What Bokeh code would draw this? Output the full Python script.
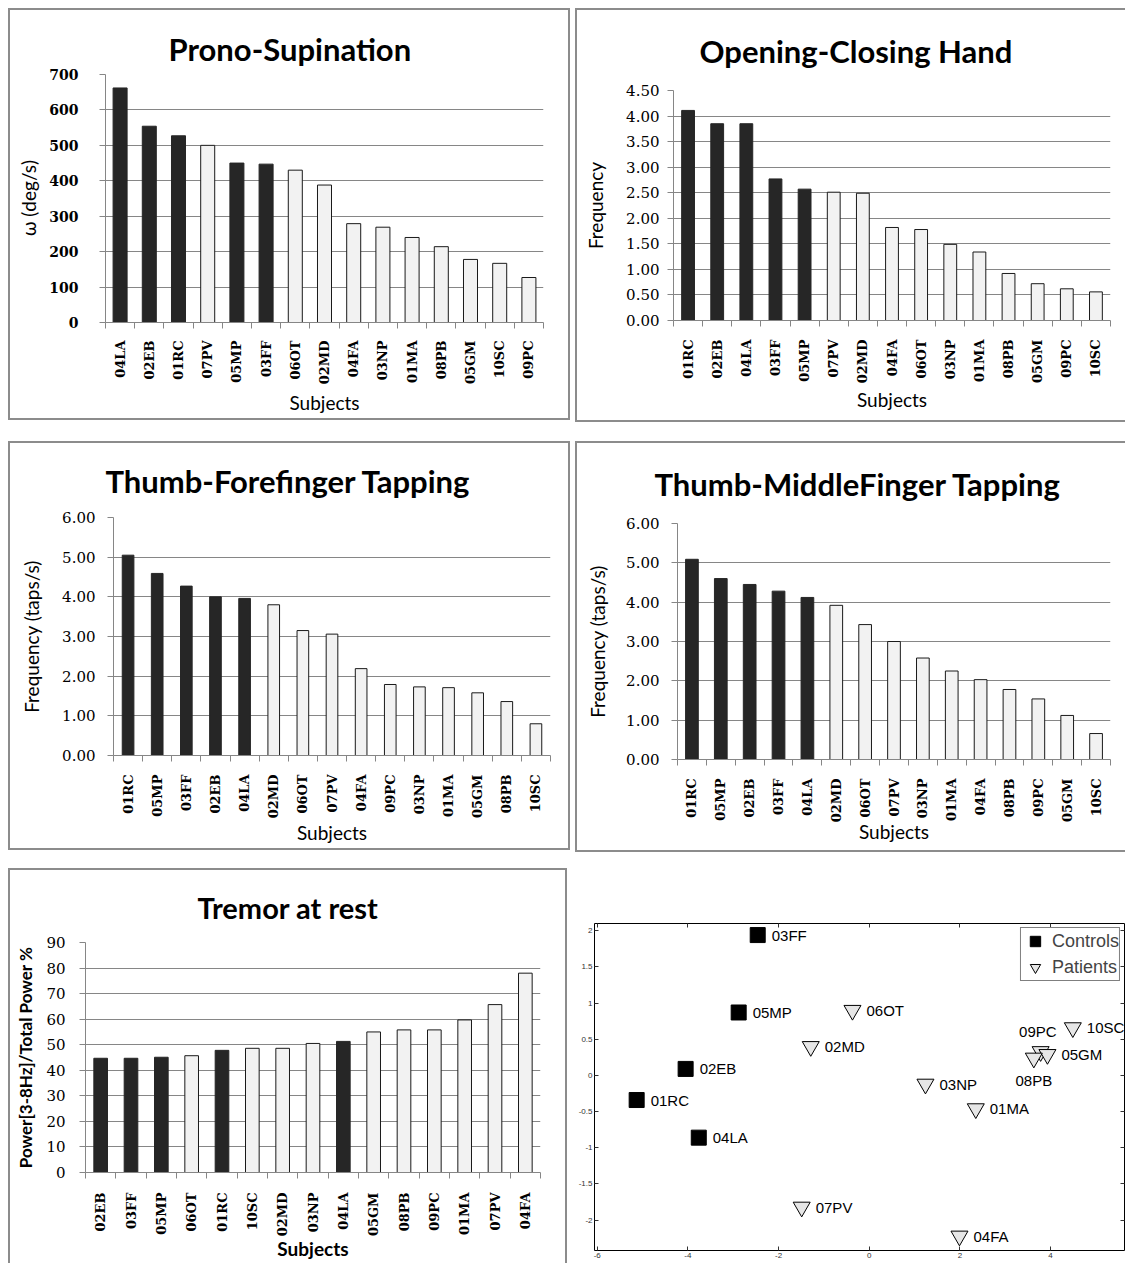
import math
from bokeh.plotting import figure
from bokeh.models import (ColumnDataSource, FixedTicker, NumeralTickFormatter, Range1d,
                          LinearAxis, CustomJSTickFormatter, LabelSet, Legend, LegendItem)
from bokeh.layouts import row, column
from bokeh.embed import file_html
from bokeh.resources import INLINE
from bokeh.core.properties import value

# ---------------- data ----------------
controls = ["01RC", "02EB", "03FF", "04LA", "05MP"]

ps_subjects = ["04LA", "02EB", "01RC", "07PV", "05MP", "03FF", "06OT", "02MD",
               "04FA", "03NP", "01MA", "08PB", "05GM", "10SC", "09PC"]
ps_values = [662, 554, 527, 500, 450, 447, 430, 388, 279, 269, 240, 214, 178, 167, 127]

och_subjects = ["01RC", "02EB", "04LA", "03FF", "05MP", "07PV", "02MD", "04FA",
                "06OT", "03NP", "01MA", "08PB", "05GM", "09PC", "10SC"]
och_values = [4.11, 3.85, 3.85, 2.77, 2.57, 2.51, 2.49, 1.82, 1.78, 1.49, 1.34, 0.92, 0.72, 0.62, 0.56]

tff_subjects = ["01RC", "05MP", "03FF", "02EB", "04LA", "02MD", "06OT", "07PV",
                "04FA", "09PC", "03NP", "01MA", "05GM", "08PB", "10SC"]
tff_values = [5.05, 4.59, 4.27, 4.00, 3.96, 3.80, 3.15, 3.06, 2.19, 1.79, 1.73, 1.71, 1.58, 1.36, 0.80]

tmf_subjects = ["01RC", "05MP", "02EB", "03FF", "04LA", "02MD", "06OT", "07PV",
                "03NP", "01MA", "04FA", "08PB", "09PC", "05GM", "10SC"]
tmf_values = [5.09, 4.60, 4.45, 4.28, 4.12, 3.92, 3.43, 3.00, 2.58, 2.25, 2.03, 1.78, 1.54, 1.12, 0.66]

tr_subjects = ["02EB", "03FF", "05MP", "06OT", "01RC", "10SC", "02MD", "03NP",
               "04LA", "05GM", "08PB", "09PC", "01MA", "07PV", "04FA"]
tr_values = [44.7, 44.7, 45.1, 45.7, 47.8, 48.6, 48.6, 50.5, 51.3, 55.0, 55.8, 55.8, 59.7, 65.7, 78.0]

pca_names = ["03FF", "05MP", "02EB", "01RC", "04LA", "06OT", "02MD", "03NP",
             "01MA", "09PC", "05GM", "08PB", "10SC", "07PV", "04FA"]
pca_x = [-2.46, -2.88, -4.05, -5.13, -3.76, -0.37, -1.29, 1.24, 2.35, 3.78, 3.93, 3.63, 4.49, -1.49, 1.99]
pca_y = [1.94, 0.87, 0.09, -0.34, -0.86, 0.90, 0.40, -0.12, -0.46, 0.33, 0.29, 0.24, 0.66, -1.82, -2.22]

# ---------------- styles ----------------
GRID = "#868686"
BORDER = "#8c8c8c"
DARK = "#262626"
LIGHT = "#f2f2f2"
TITLE_FONT = "Lato"
LABEL_FONT = "Lato"
TICK_FONT = "DejaVu Serif"


def shadow(sides):
    parts = []
    if "l" in sides:
        parts.append(f"inset 2px 0 0 0 {BORDER}")
    if "t" in sides:
        parts.append(f"inset 0 2px 0 0 {BORDER}")
    if "r" in sides:
        parts.append(f"inset -2px 0 0 0 {BORDER}")
    if "b" in sides:
        parts.append(f"inset 0 -2px 0 0 {BORDER}")
    return ", ".join(parts)


def bar_panel(title, subjects, values, ylabel, ymax, ystep, yfmt, c):
    n = len(subjects)
    centers = [i + 0.5 for i in range(n)]
    fills = [DARK if s in controls else LIGHT for s in subjects]
    lines = [DARK if s in controls else "#1a1a1a" for s in subjects]
    src = ColumnDataSource(dict(x=centers, top=values, subj=subjects, fill=fills, line=lines))
    p = figure(width=c["w"], height=c["h"], x_range=Range1d(0, n), y_range=Range1d(0, ymax),
               title=title, output_backend="svg", toolbar_location=None,
               min_border_left=c["mb"][0], min_border_right=c["mb"][1],
               min_border_top=c["mb"][2], min_border_bottom=c["mb"][3])
    p.styles = {"box-shadow": shadow(c["sides"])}
    p.border_fill_color = None
    p.background_fill_color = "white"
    p.outline_line_color = None

    p.vbar(x="x", top="top", bottom=0, width=c["bw"], source=src,
           fill_color="fill", line_color="line", line_width=1)

    # title
    p.title.align = "left"
    p.title.offset = c["toff"]
    p.title.standoff = c["tstd"]
    p.title.text_font = TITLE_FONT
    p.title.text_font_size = c["tsize"]
    p.title.text_font_style = c["tstyle"]
    p.title.text_color = "black"

    # y axis
    nt = int(round(ymax / ystep))
    yticks = [round(i * ystep, 2) for i in range(nt + 1)]
    p.yaxis.ticker = FixedTicker(ticks=yticks)
    p.yaxis.formatter = NumeralTickFormatter(format=yfmt)
    p.yaxis.axis_label = ylabel
    p.yaxis.axis_label_text_font = LABEL_FONT
    p.yaxis.axis_label_text_font_size = c["ylsize"]
    p.yaxis.axis_label_text_font_style = c["ylstyle"]
    p.yaxis.axis_label_text_color = "black"
    p.yaxis.axis_label_standoff = c["y_als"]
    p.yaxis.major_label_text_font = TICK_FONT
    p.yaxis.major_label_text_font_size = c["ytsize"]
    p.yaxis.major_label_text_font_style = c["ytstyle"]
    p.yaxis.major_label_text_color = "black"
    p.yaxis.major_label_standoff = c["y_ls"]
    p.yaxis.axis_line_color = GRID
    p.yaxis.major_tick_line_color = GRID
    p.yaxis.major_tick_out = 6
    p.yaxis.major_tick_in = 0
    p.yaxis.minor_tick_line_color = None

    p.ygrid.grid_line_color = GRID
    p.ygrid.grid_line_width = 1.2
    p.xgrid.visible = False

    # x axis
    p.xaxis.ticker = FixedTicker(ticks=centers, minor_ticks=list(range(n + 1)))
    p.xaxis.major_label_overrides = {x: s for x, s in zip(centers, subjects)}
    p.xaxis.major_label_orientation = math.pi / 2
    p.xaxis.major_label_text_font = TICK_FONT
    p.xaxis.major_label_text_font_size = "13px"
    p.xaxis.major_label_text_font_style = "bold"
    p.xaxis.major_label_text_color = "black"
    p.xaxis.major_label_standoff = c["x_ls"]
    p.xaxis.major_tick_out = 0
    p.xaxis.major_tick_in = 0
    p.xaxis.minor_tick_out = 6
    p.xaxis.minor_tick_in = 0
    p.xaxis.minor_tick_line_color = GRID
    p.xaxis.axis_line_color = GRID
    p.xaxis.axis_label = "Subjects"
    p.xaxis.axis_label_text_font = LABEL_FONT
    p.xaxis.axis_label_text_font_size = "19px"
    p.xaxis.axis_label_text_font_style = c["xlstyle"]
    p.xaxis.axis_label_text_color = "black"
    p.xaxis.axis_label_standoff = c["x_als"]
    return p


p1 = bar_panel("Prono-Supination", ps_subjects, ps_values, "\u03c9 (deg/s)", 700, 100, "0",
               dict(w=562, h=412, mb=(97, 27, 66, 98), sides="ltrb", bw=0.48,
                    toff=63, tstd=13, tsize="31px", tstyle="bold",
                    ylsize="19px", ylstyle="normal", y_als=6, y_ls=21,
                    ytsize="14px", ytstyle="bold", x_ls=12, x_als=4, xlstyle="normal"))

p2 = bar_panel("Opening-Closing Hand", och_subjects, och_values, "Frequency", 4.5, 0.5, "0.00",
               dict(w=550, h=414, mb=(98, 15, 82, 102), sides="ltb", bw=0.44,
                    toff=26, tstd=42, tsize="31px", tstyle="bold",
                    ylsize="19px", ylstyle="normal", y_als=16, y_ls=8,
                    ytsize="15px", ytstyle="normal", x_ls=13, x_als=2, xlstyle="normal"))

p3 = bar_panel("Thumb-Forefinger Tapping", tff_subjects, tff_values, "Frequency (taps/s)", 6, 1, "0.00",
               dict(w=562, h=409, mb=(105, 20, 76, 95), sides="ltrb", bw=0.40,
                    toff=-8, tstd=35, tsize="31px", tstyle="bold",
                    ylsize="19px", ylstyle="normal", y_als=16, y_ls=12,
                    ytsize="15px", ytstyle="normal", x_ls=13, x_als=0, xlstyle="normal"))

p4 = bar_panel("Thumb-MiddleFinger Tapping", tmf_subjects, tmf_values, "Frequency (taps/s)", 6, 1, "0.00",
               dict(w=550, h=411, mb=(102, 15, 82, 93), sides="ltb", bw=0.44,
                    toff=-23, tstd=42, tsize="31px", tstyle="bold",
                    ylsize="19px", ylstyle="normal", y_als=14, y_ls=12,
                    ytsize="15px", ytstyle="normal", x_ls=13, x_als=-5, xlstyle="normal"))

p5 = bar_panel("Tremor at rest", tr_subjects, tr_values, "Power[3-8Hz]/Total Power %", 90, 10, "0",
               dict(w=559, h=395, mb=(77, 27, 74, 90), sides="ltr", bw=0.45,
                    toff=112, tstd=36, tsize="29px", tstyle="bold",
                    ylsize="17px", ylstyle="bold", y_als=7, y_ls=14,
                    ytsize="15px", ytstyle="normal", x_ls=14, x_als=-2, xlstyle="bold"))

# ---------------- scatter (PCA) ----------------
label_anchor = {"09PC": ("right", 16, 20), "08PB": ("center", 0, -22)}
groups = ["Controls" if n in controls else "Patients" for n in pca_names]

ctrl = ColumnDataSource(dict(x=[x for x, g in zip(pca_x, groups) if g == "Controls"],
                             y=[y for y, g in zip(pca_y, groups) if g == "Controls"]))
pat = ColumnDataSource(dict(x=[x for x, g in zip(pca_x, groups) if g == "Patients"],
                            y=[y for y, g in zip(pca_y, groups) if g == "Patients"]))
lab = ColumnDataSource(dict(
    x=pca_x, y=pca_y, name=pca_names,
    align=[label_anchor.get(n, ("left", 14, 0))[0] for n in pca_names],
    xo=[label_anchor.get(n, ("left", 14, 0))[1] for n in pca_names],
    yo=[label_anchor.get(n, ("left", 14, 0))[2] for n in pca_names],
))

s = figure(width=553, height=395, x_range=Range1d(-6.06, 5.63), y_range=Range1d(-2.42, 2.10),
           output_backend="svg", toolbar_location=None,
           min_border_left=22, min_border_right=1, min_border_top=55, min_border_bottom=13)
s.border_fill_color = None
s.background_fill_color = "white"
s.outline_line_color = "black"
s.outline_line_width = 1
s.grid.visible = False

xt = FixedTicker(ticks=[-6, -4, -2, 0, 2, 4])
yt = FixedTicker(ticks=[-2, -1.5, -1, -0.5, 0, 0.5, 1, 1.5, 2])
fmt = CustomJSTickFormatter(code="return tick.toString();")
blank = CustomJSTickFormatter(code="return '';")
s.xaxis.ticker = xt
s.yaxis.ticker = yt
for ax in (s.xaxis, s.yaxis):
    ax.formatter = fmt
    ax.major_tick_in = 4
    ax.major_tick_out = 0
    ax.minor_tick_line_color = None
    ax.axis_line_color = None
    ax.major_tick_line_color = "#333333"
    ax.major_label_text_font = "Liberation Sans"
    ax.major_label_text_font_size = "8px"
    ax.major_label_text_color = "#333333"
    ax.major_label_standoff = 2
for loc, tk in (("right", yt), ("above", xt)):
    ax = LinearAxis(ticker=tk, formatter=blank, major_label_text_font_size="8px",
                    major_tick_in=4, major_tick_out=0,
                    axis_line_color=None, minor_tick_line_color=None, major_label_standoff=0,
                    major_tick_line_color="#333333")
    s.add_layout(ax, loc)

r_c = s.scatter("x", "y", source=ctrl, marker="square", size=15, fill_color="black", line_color="black")
r_p = s.scatter("x", "y", source=pat, marker="inverted_triangle", size=17,
                fill_color="#e6e6e6", line_color="black", line_width=1)

labels = LabelSet(x="x", y="y", text="name", source=lab, x_offset="xo", y_offset="yo",
                  text_align="align", text_baseline="middle",
                  text_font=value("Liberation Sans"), text_font_size="15px", text_color="black")
s.add_layout(labels)

legend = Legend(items=[LegendItem(label="Controls", renderers=[r_c]),
                       LegendItem(label="Patients", renderers=[r_p])],
                location="top_right", margin=4, padding=0, spacing=0,
                glyph_width=28, glyph_height=26, label_height=24, label_standoff=3,
                label_text_font="Liberation Sans", label_text_font_size="18px",
                border_line_color="black", border_line_width=1,
                background_fill_color="white", background_fill_alpha=1)
s.add_layout(legend)

# ---------------- layout ----------------
# each figure wrapped in its own column so that frames are not aligned across a row
row1 = row(column(p1), column(p2), spacing=5)
row2 = row(column(p3), column(p4), spacing=5)
row3 = row(column(p5), column(s), spacing=5)
row2.margin = (19, 0, 0, 0)
row3.margin = (16, 0, 0, 0)
page = column(row1, row2, row3, spacing=0)
page.margin = (8, 0, 0, 8)

open("out.html", "w").write(file_html(page, INLINE))
